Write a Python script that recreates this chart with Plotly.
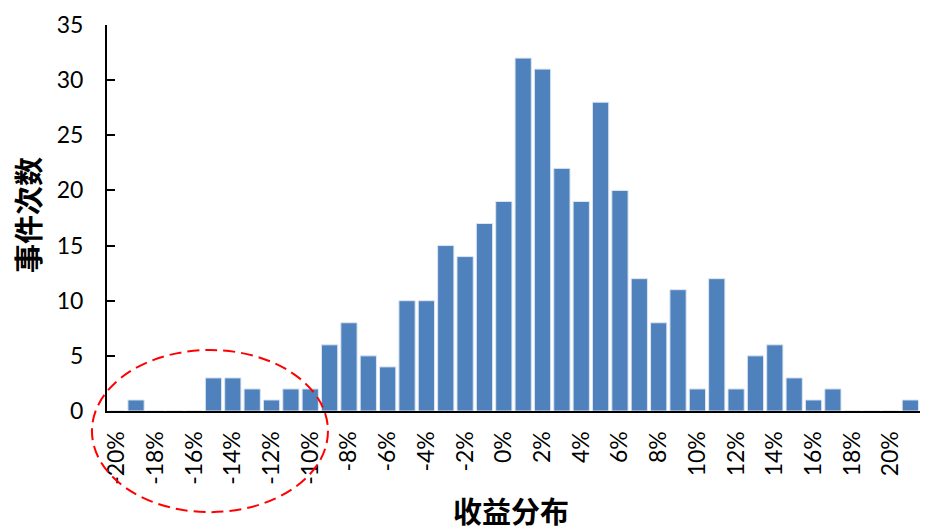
import plotly.graph_objects as go

returns = list(range(-20, 22))
counts = [0, 1, 0, 0, 0, 3, 3, 2, 1, 2, 2, 6, 8, 5, 4, 10, 10, 15, 14, 17, 19,
          32, 31, 22, 19, 28, 20, 12, 8, 11, 2, 12, 2, 5, 6, 3, 1, 2, 0, 0, 0, 1]
tick_vals = list(range(-20, 21, 2))
tick_text = [f"{v}%" for v in tick_vals]
y_title = "事件次数"
x_title = "收益分布"

fig = go.Figure()
fig.add_trace(go.Bar(
    x=returns, y=counts,
    marker=dict(color="#4F81BD", line=dict(color="#DCE6F2", width=1)),
    hoverinfo="x+y",
))

fig.update_layout(
    width=930, height=531,
    margin=dict(l=107, r=10, t=25, b=120),
    paper_bgcolor="white", plot_bgcolor="white",
    bargap=0.16,
    showlegend=False,
    font=dict(family="Lato, Liberation Sans, sans-serif", color="black"),
)
fig.update_xaxes(
    range=[-20.5, 21.5],
    tickmode="array", tickvals=tick_vals, ticktext=tick_text,
    tickangle=-90, ticks="", ticklabelstandoff=9,
    tickfont=dict(size=23),
    showline=True, linecolor="black", linewidth=2,
    showgrid=False, zeroline=False,
)
fig.update_yaxes(
    range=[0, 35], tickmode="linear", tick0=0, dtick=5,
    ticks="inside", ticklen=8, tickcolor="black", tickwidth=1.5,
    ticklabelstandoff=17,
    tickfont=dict(size=23),
    showline=True, linecolor="black", linewidth=2,
    showgrid=False, zeroline=False,
)

fig.add_annotation(
    text=f"<b>{y_title}</b>", xref="paper", yref="paper",
    x=-0.0984, y=0.508, showarrow=False, textangle=-90,
    font=dict(family="Noto Sans CJK SC", size=29, color="black"),
    xanchor="center", yanchor="middle",
)
fig.add_annotation(
    text=f"<b>{x_title}</b>", xref="paper", yref="paper",
    x=0.497, y=-0.256, showarrow=False,
    font=dict(family="Noto Sans CJK SC", size=29, color="black"),
    xanchor="center", yanchor="middle",
)

fig.add_shape(
    type="circle", xref="paper", yref="paper",
    x0=-0.0185, x1=0.2718, y0=-0.262, y1=0.158,
    line=dict(color="#FF0000", width=2, dash="12px,6px"),
    fillcolor="rgba(0,0,0,0)",
)

fig.write_html(
    "out.html",
    config={"displayModeBar": False},
    post_script="document.body.style.margin='0';document.body.style.overflow='hidden';",
)
